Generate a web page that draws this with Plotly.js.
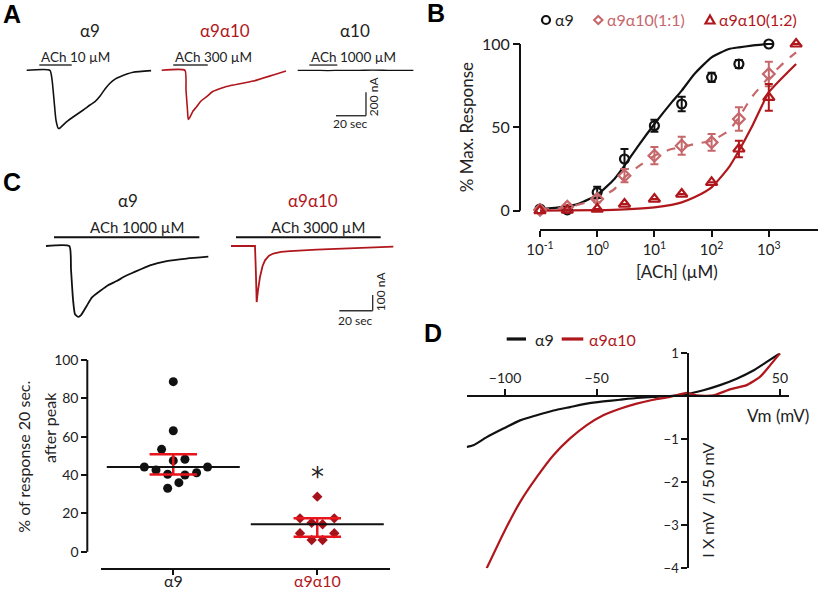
<!DOCTYPE html>
<html><head><meta charset="utf-8">
<script src="https://cdn.plot.ly/plotly-3.0.1.min.js"></script>
<style>html,body{margin:0;padding:0;background:#fff}#chart{width:820px;height:589px}</style>
</head><body><div id="chart"></div>
<script>
// ---------- Panel A : example traces (time s, current nA) ----------
const aT9   = [0,15.5,16.9,18.2,19.5,21.1,22.2,24.2,26.7,30.9,37.7,42.2,45.5,48.9,52.2,55.5,58.9,62.2,70.9,82.9];
const aI9   = [0,0,-83,-254,-426,-497,-494,-469,-440,-400,-340,-297,-269,-220,-160,-111,-75,-55,-17,-3];
const aT910 = [0,15.5,16.2,17.2,17.7,18.9,20.9,23.3,26.2,30,33.5,37.7,42.2,47.7,61.1,74.4,82.9];
const aI910 = [0,0,-169,-340,-420,-400,-349,-312,-263,-226,-186,-163,-143,-126,-92,-40,-6];
const aT10  = [0,10,20,30,40,50,60,70,77.1];
const aI10  = [0,0,-2,0,-1,2,0,-1,0];
const achAOn  = [8.4,7.7,7.7];
const achAOff = [30,30.7,26.4];
const achALabels = ['ACh 10 µM','ACh 300 µM','ACh 1000 µM'];
const aTitles = ['α9','α9α10','α10'];

// ---------- Panel B : concentration-response ----------
const doses   = [0.1,0.3,1,3,10,30,100,300,1000,3000];
const a9Resp  = [1,0.5,11,31,51,64,80,88,100];
const a9Err   = [1.5,1,3.4,6,3.6,4.4,2.8,2.4,0];
const a11Resp = [0.5,2.4,7,21,33,39,41,55,82];
const a11Err  = [0.5,1,2,4,5.2,5.4,5,7,7.4];
const a12Resp = [0,0.3,1,4,7,10,17,37,68,100];
const a12Err  = [0,0,0,0,0,0,0,5,8,0];
const fit9X   = [0.1,0.2,0.5,1,2,3,5,10,20,30,50,100,200,300,500,1000];
const fit9Y   = [1,1.8,4.5,9.5,19,27,38,52,65,72,82,92,97,98,99,100];
const fit11X  = [0.1,0.3,1,2,3,5,10,20,30,50,100,200,300,500,1000,2000,3000];
const fit11Y  = [0.5,2,7,13,20,26,33,37,38,40,42,48,56,68,80,90,95];
const fit12X  = [0.1,1,3,10,20,30,50,100,200,300,500,1000,2000,3000];
const fit12Y  = [0,0.3,0.8,2,3.5,5,8,14,26,36,50,71,82,88];
const bTickVals = [0.1,1,10,100,1000];
const bTickText = ['10<sup>-1</sup>','10<sup>0</sup>','10<sup>1</sup>','10<sup>2</sup>','10<sup>3</sup>'];

// ---------- Panel C : traces ----------
const cT9   = [0,14,15,16.2,17.4,19.4,21,24.4,27.6,32.4,37.2,42.4,47.4,52.4,62.4,72.4,84.4,97.4];
const cI9   = [0,0,-148,-339,-435,-452,-441,-382,-327,-287,-250,-223,-193,-169,-123,-96,-80,-68];
const cT910 = [0,14.4,14.9,15.4,16.2,17.4,18.9,20.4,22.8,25.4,30,35.4,51.4,71.4,97.4];
const cI910 = [0,0,-155,-357,-282,-197,-129,-91,-62,-48,-37,-32,-23,-13,-4];
const achCOn  = [4.8,3];
const achCOff = [92,89.8];
const achCLabels = ['ACh 1000 µM','ACh 3000 µM'];

// ---------- Panel C : % response 20 s after peak ----------
const groups   = ['α9','α9α10'];
const pts9     = [88.7,63.1,53.4,47.5,48.2,44.2,42.6,44.2,41.2,40.4,40,36,33.1];
const jit9     = [0,0,-0.081,0,0.081,-0.201,-0.12,0.238,0.162,-0.039,0.081,0.039,-0.039];
const pts910   = [28.7,17.4,17.4,15.1,14.3,9.6,9.6,6.1,6.1];
const jit910   = [0,-0.12,0.118,-0.039,0.037,-0.12,0.118,-0.039,0.037];
const medians  = [44.2,14.3];
const q1       = [40.2,7.8];
const q3       = [50.8,17.4];

// ---------- Panel D : I-V ----------
const ivV9   = [-120.9,-117.3,-110,-100.9,-91.8,-82.7,-73.6,-64.5,-55.4,-46.4,-37.3,-28.2,-19.1,-10,-0.9,8.2,17.3,26.4,35.5,42.8,50];
const ivI9   = [-1.18,-1.14,-0.95,-0.75,-0.56,-0.44,-0.33,-0.25,-0.17,-0.12,-0.08,-0.04,-0.015,0.007,0.05,0.14,0.26,0.41,0.6,0.8,1.0];
const ivV910 = [-110,-100.9,-91.8,-82.7,-73.6,-64.5,-55.4,-46.4,-37.3,-28.2,-19.1,-10,-0.9,4.6,13.6,22.7,31.8,39.1,44.6,50];
const ivI910 = [-4,-3.19,-2.46,-1.88,-1.37,-0.98,-0.67,-0.44,-0.29,-0.17,-0.08,-0.015,0.08,0.02,0.02,0.16,0.26,0.45,0.72,1.0];

// ---------- helpers ----------
const W=820,H=589;
const X=p=>p/W, Y=p=>1-p/H;
const FONT='Lato, "Open Sans", "DejaVu Sans", sans-serif';
const BLK='#111111', RED='#B0171C', PINK='#C6676B', BRED='#E8151C', DRED='#A51219';

const traces=[];
const ln=(x,y,xa,ya,color,width,extra)=>({x:x,y:y,xaxis:xa,yaxis:ya,mode:'lines',
  line:Object.assign({color:color,width:width,shape:'spline',smoothing:0.5},extra||{}),
  showlegend:false,hoverinfo:'skip',cliponaxis:false});

// A
traces.push(ln(aT9,aI9,'x','y',BLK,1.6));
traces.push(ln(aT910,aI910,'x2','y',RED,1.6));
traces.push(ln(aT10,aI10,'x3','y',BLK,1.3));
// B fits
traces.push(ln(fit9X,fit9Y,'x4','y2',BLK,2.2));
traces.push(ln(fit11X,fit11Y,'x4','y2',PINK,2.2,{dash:'dash'}));
traces.push(ln(fit12X,fit12Y,'x4','y2',RED,2.2));
// B data
const pts=(x,y,e,sym,size,color)=>({x:x,y:y,xaxis:'x4',yaxis:'y2',mode:'markers',cliponaxis:false,showlegend:false,
  marker:{symbol:sym,size:size,color:color,line:{width:2.2,color:color}},
  error_y:{type:'data',array:e,visible:true,color:color,thickness:2,width:4}});
traces.push(pts(doses.slice(0,a9Resp.length),a9Resp,a9Err,'circle-open',9,BLK));
traces.push(pts(doses.slice(0,a11Resp.length),a11Resp,a11Err,'diamond-open',9,PINK));
traces.push(pts(doses.slice(0,a12Resp.length),a12Resp,a12Err,'triangle-up-open',10,RED));
// C traces
traces.push(ln(cT9,cI9,'x5','y3',BLK,1.8));
traces.push(ln(cT910,cI910,'x6','y3',RED,1.8,{shape:'linear'}));
// C scatter
traces.push({x:jit9.map(j=>0+j),y:pts9,xaxis:'x7',yaxis:'y4',mode:'markers',cliponaxis:false,showlegend:false,
  marker:{symbol:'circle',size:9,color:BLK}});
traces.push({x:jit910.map(j=>1+j),y:pts910,xaxis:'x7',yaxis:'y4',mode:'markers',cliponaxis:false,showlegend:false,
  marker:{symbol:'diamond',size:8,color:DRED}});
traces.push({x:[0,1],y:medians,xaxis:'x7',yaxis:'y4',mode:'markers',cliponaxis:false,showlegend:false,
  marker:{symbol:'line-ew',size:95,color:BLK,line:{width:2,color:BLK}},
  error_y:{type:'data',symmetric:false,array:q3.map((v,i)=>v-medians[i]),arrayminus:medians.map((m,i)=>m-q1[i]),
    color:BRED,thickness:2.5,width:23.7}});
// D
traces.push(ln(ivV9,ivI9,'x8','y5',BLK,2.2));
traces.push(ln(ivV910,ivI910,'x8','y5',RED,2.2));

const hidden={visible:false,fixedrange:true};
const axBase={showgrid:false,zeroline:false,linecolor:BLK,linewidth:2,tickcolor:BLK,tickwidth:2,
  tickfont:{family:FONT,size:15,color:'#222'},fixedrange:true};

const layout={
  width:W,height:H,margin:{l:0,r:0,t:0,b:0},paper_bgcolor:'#fff',plot_bgcolor:'rgba(0,0,0,0)',
  showlegend:false,font:{family:FONT,color:'#222'},
  xaxis: Object.assign({domain:[X(20),X(158)],range:[-4.47,87.5],anchor:'y'},hidden),
  xaxis2:Object.assign({domain:[X(158),X(292)],range:[-2.47,86.9],anchor:'y'},hidden),
  xaxis3:Object.assign({domain:[X(292),X(420)],range:[-3.8,81.5],anchor:'y'},hidden),
  yaxis: Object.assign({domain:[Y(140),Y(40)],range:[-597,259.6],anchor:'x'},hidden),
  xaxis4:Object.assign({},axBase,{type:'log',domain:[X(540),X(818)],range:[-1,3.86],anchor:'y2',showline:true,
    ticks:'outside',ticklen:6,tickvals:bTickVals,ticktext:bTickText,tickfont:{family:FONT,size:15,color:'#222'}}),
  yaxis2:Object.assign({},axBase,{domain:[Y(229.3),Y(30)],range:[-11.16,108.4],anchor:'free',position:X(520),
    showline:false,ticks:'outside',ticklen:7,tickvals:[0,50,100],tickfont:{family:FONT,size:16,color:'#222'}}),
  xaxis5:Object.assign({domain:[X(40),X(215)],range:[-3.6,101.4],anchor:'y3'},hidden),
  xaxis6:Object.assign({domain:[X(225),X(400)],range:[-3.6,101.4],anchor:'y3'},hidden),
  yaxis3:Object.assign({domain:[Y(325),Y(215)],range:[-503.2,197.5],anchor:'x5'},hidden),
  xaxis7:Object.assign({},axBase,{domain:[X(100.7),X(390)],range:[-0.504,1.505],anchor:'y4',showline:true,
    ticks:'outside',ticklen:5,tickvals:[0,1],showticklabels:false}),
  yaxis4:Object.assign({},axBase,{domain:[Y(568.3),Y(350)],range:[-8.66,105.2],anchor:'free',position:X(87.3),
    showline:false,ticks:'outside',ticklen:6,tickvals:[0,20,40,60,80,100],tickfont:{family:FONT,size:14,color:'#222'}}),
  xaxis8:Object.assign({},axBase,{domain:[X(466.7),X(789.3)],range:[-120.9,55.1],anchor:'free',position:Y(396),
    side:'top',showline:true,ticks:'outside',ticklen:6,tickvals:[-100,-50,50],tickfont:{family:FONT,size:14,color:'#222'}}),
  yaxis5:Object.assign({},axBase,{domain:[Y(568.3),Y(353.3)],range:[-4,1],anchor:'free',position:X(688.3),
    side:'left',showline:true,ticks:'outside',ticklen:6,tickvals:[-4,-3,-2,-1,1],tickfont:{family:FONT,size:13,color:'#222'}}),
  shapes:[],annotations:[]
};

const S=layout.shapes, A=layout.annotations;
const ann=(px,py,text,o)=>A.push(Object.assign({xref:'paper',yref:'paper',x:X(px),y:Y(py),text:text,showarrow:false,
  xanchor:'center',yanchor:'middle',font:{family:FONT,size:15,color:'#222'}},o||{}));
const seg=(xref,yref,x0,y0,x1,y1,color,width)=>S.push({type:'line',xref:xref,yref:yref,x0:x0,y0:y0,x1:x1,y1:y1,line:{color:color,width:width}});

// panel letters
[['A',12,14],['B',436,13],['C',12,182],['D',433,333]].forEach(l=>ann(l[1],l[2],'<b>'+l[0]+'</b>',{font:{family:'Liberation Sans, Arial, sans-serif',size:25,color:'#000'}}));

// A labels / bars
const aX=['x','x2','x3'];
[[90,30],[225,30],[355,30]].forEach((p,i)=>ann(p[0],p[1],aTitles[i],{font:{family:FONT,size:17,color:i===1?RED:'#222'}}));
[39.3,173.3,309.3].forEach((px,i)=>ann(px,56.7,achALabels[i],{xanchor:'left',font:{family:FONT,size:13.5,color:'#222'}}));
achAOn.forEach((t,i)=>seg(aX[i],'y',t,45,achAOff[i],45,'#333',1.4));
// A scale bar (20 s, 200 nA)
seg('x3','y',25.5,-389,45.5,-389,'#333',1.4);
seg('x3','y',45.5,-389,45.5,-189,'#333',1.4);
ann(350.7,123.3,'20 sec',{font:{family:FONT,size:12,color:'#222'}});
ann(373.5,96.7,'200 nA',{textangle:-90,font:{family:FONT,size:12,color:'#222'}});

// B legend (symbols + text)
S.push({type:'circle',xref:'paper',yref:'paper',x0:X(542),x1:X(550),y0:Y(24),y1:Y(16),line:{color:BLK,width:2.2}});
S.push({type:'path',xref:'paper',yref:'paper',path:`M${X(598.3)},${Y(16)} L${X(602.5)},${Y(20)} L${X(598.3)},${Y(24)} L${X(594.1)},${Y(20)} Z`,line:{color:PINK,width:2}});
S.push({type:'path',xref:'paper',yref:'paper',path:`M${X(710)},${Y(15.5)} L${X(714.5)},${Y(23.5)} L${X(705.5)},${Y(23.5)} Z`,line:{color:RED,width:2.2}});
ann(553,20,'α9',{xanchor:'left',font:{family:FONT,size:16,color:'#222'}});
ann(605,20,'α9α10(1:1)',{xanchor:'left',font:{family:FONT,size:16,color:PINK}});
ann(716.5,20,'α9α10(1:2)',{xanchor:'left',font:{family:FONT,size:16,color:RED}});
// B axis titles + y line
S.push({type:'line',xref:'paper',yref:'y2',x0:X(520),x1:X(520),y0:0,y1:100,line:{color:BLK,width:2}});
ann(466.7,127.5,'% Max. Response',{textangle:-90,font:{family:FONT,size:17,color:'#222'}});
ann(676.7,271,'[ACh] (µM)',{font:{family:FONT,size:17,color:'#222'}});

// C labels / bars
ann(127.7,200,'α9',{font:{family:FONT,size:17,color:'#222'}});
ann(313.3,200,'α9α10',{font:{family:FONT,size:17,color:RED}});
ann(136.7,227.3,achCLabels[0],{font:{family:FONT,size:15,color:'#222'}});
ann(318.3,227.3,achCLabels[1],{font:{family:FONT,size:15,color:'#222'}});
const cX=['x5','x6'];
achCOn.forEach((t,i)=>seg(cX[i],'y3',t,55.4,achCOff[i],55.4,BLK,2));
seg('x6','y3',65,-412,85,-412,'#333',1.4);
seg('x6','y3',85,-412,85,-312,'#333',1.4);
ann(355,320,'20 sec',{font:{family:FONT,size:12,color:'#222'}});
ann(380.5,291.7,'100 nA',{textangle:-90,font:{family:FONT,size:12,color:'#222'}});

// C scatter
S.push({type:'line',xref:'paper',yref:'y4',x0:X(87.3),x1:X(87.3),y0:0,y1:100,line:{color:BLK,width:2}});
ann(24,456.7,'% of response 20 sec.',{textangle:-90,font:{family:FONT,size:16,color:'#222'}});
ann(49,428,'after peak',{textangle:-90,font:{family:FONT,size:16,color:'#222'}});
A.push({xref:'x7',yref:'paper',x:0,y:Y(580),text:groups[0],showarrow:false,xanchor:'center',yanchor:'middle',font:{family:FONT,size:16,color:'#222'}});
A.push({xref:'x7',yref:'paper',x:1,y:Y(580),text:groups[1],showarrow:false,xanchor:'center',yanchor:'middle',font:{family:FONT,size:16,color:RED}});
A.push({xref:'x7',yref:'paper',x:1,y:Y(477),text:'*',showarrow:false,xanchor:'center',yanchor:'middle',font:{family:'DejaVu Sans, sans-serif',size:26,color:'#222'}});

// D legend + titles
seg('paper','paper',X(506.7),Y(339),X(526),Y(339),BLK,3.2);
ann(533,339,'α9',{xanchor:'left',font:{family:FONT,size:16,color:'#222'}});
seg('paper','paper',X(561.7),Y(339),X(583.3),Y(339),RED,3.2);
ann(586.5,339,'α9α10',{xanchor:'left',font:{family:FONT,size:16,color:RED}});
ann(778,415,'Vm (mV)',{font:{family:FONT,size:17,color:'#222'}});
ann(706.7,500,'I X mV  /I 50 mV',{textangle:-90,font:{family:FONT,size:16,color:'#222'}});

Plotly.newPlot('chart',traces,layout,{staticPlot:true,displayModeBar:false});
</script></body></html>
